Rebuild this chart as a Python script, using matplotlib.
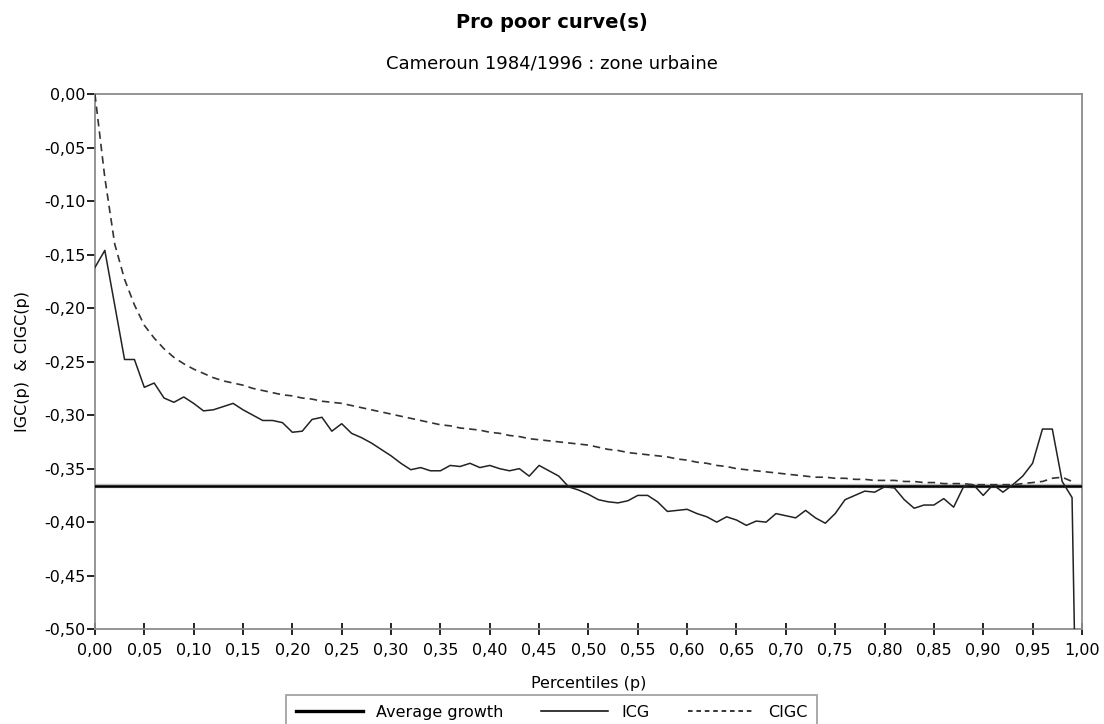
import numpy as np
import matplotlib
matplotlib.use("Agg")
import matplotlib.pyplot as plt
from matplotlib.ticker import FuncFormatter
from matplotlib.lines import Line2D

# percentiles 0.00 .. 1.00 (step 0.01)
p_icg = np.round(np.arange(0, 101) / 100, 2)
icg = [
    -0.162, -0.146, -0.197, -0.248, -0.248, -0.274, -0.270, -0.284, -0.288, -0.283,
    -0.289, -0.296, -0.295, -0.292, -0.289, -0.295, -0.300, -0.305, -0.305, -0.307,
    -0.316, -0.315, -0.304, -0.302, -0.315, -0.308, -0.317, -0.321, -0.326, -0.332,
    -0.338, -0.345, -0.351, -0.349, -0.352, -0.352, -0.347, -0.348, -0.345, -0.349,
    -0.347, -0.350, -0.352, -0.350, -0.357, -0.347, -0.352, -0.357, -0.367, -0.370,
    -0.374, -0.379, -0.381, -0.382, -0.380, -0.375, -0.375, -0.381, -0.390, -0.389,
    -0.388, -0.392, -0.395, -0.400, -0.395, -0.398, -0.403, -0.399, -0.400, -0.392,
    -0.394, -0.396, -0.389, -0.396, -0.401, -0.392, -0.379, -0.375, -0.371, -0.372,
    -0.367, -0.368, -0.379, -0.387, -0.384, -0.384, -0.378, -0.386, -0.367, -0.365,
    -0.375, -0.365, -0.372, -0.365, -0.357, -0.345, -0.313, -0.313, -0.362, -0.377,
    -0.900,
]

# CIGC stops at 0.99
p_cigc = np.round(np.arange(0, 100) / 100, 2)
cigc = [
    0.000, -0.078, -0.140, -0.173, -0.197, -0.216, -0.228, -0.238, -0.246, -0.252,
    -0.257, -0.261, -0.265, -0.268, -0.270, -0.272, -0.275, -0.277, -0.279, -0.281,
    -0.282, -0.284, -0.285, -0.287, -0.288, -0.289, -0.291, -0.293, -0.295, -0.297,
    -0.299, -0.301, -0.303, -0.305, -0.307, -0.309, -0.310, -0.312, -0.313, -0.314,
    -0.316, -0.317, -0.319, -0.320, -0.322, -0.323, -0.324, -0.325, -0.326, -0.327,
    -0.328, -0.330, -0.332, -0.333, -0.335, -0.336, -0.337, -0.338, -0.339, -0.341,
    -0.342, -0.344, -0.345, -0.347, -0.348, -0.350, -0.351, -0.352, -0.353, -0.354,
    -0.355, -0.356, -0.357, -0.358, -0.358, -0.359, -0.359, -0.360, -0.360, -0.361,
    -0.361, -0.361, -0.362, -0.362, -0.363, -0.363, -0.364, -0.364, -0.364, -0.365,
    -0.365, -0.365, -0.365, -0.365, -0.364, -0.363, -0.362, -0.359, -0.358, -0.362,
]

avg_growth = -0.366

x_ticks = np.round(np.arange(0, 21) * 0.05, 2)
y_ticks = np.round(np.arange(0, 11) * -0.05, 2)

plt.rcParams['font.family'] = ['DejaVu Sans']

fig = plt.figure(figsize=(11.04, 7.24), dpi=100)
ax = fig.add_axes([0.086, 0.131, 0.894, 0.739])

ax.axhline(avg_growth, color='#bdbdbd', linewidth=3.2, zorder=2)
ax.axhline(avg_growth, color='black', linewidth=1.8, zorder=3)
ax.plot(p_icg, icg, color='#222222', linewidth=1.1, zorder=4)
ax.plot(p_cigc, cigc, color='#333333', linewidth=1.2, dashes=(4.5, 3), zorder=4)

ax.set_xlim(0, 1)
ax.set_ylim(-0.5, 0)
ax.set_xticks(x_ticks)
ax.set_yticks(y_ticks)
fmt = FuncFormatter(lambda v, pos: f"{v:.2f}".replace('.', ',').replace('-0,00', '0,00'))
ax.xaxis.set_major_formatter(fmt)
ax.yaxis.set_major_formatter(fmt)
ax.tick_params(axis='x', direction='inout', length=8, width=1.2, labelsize=11.5, pad=6)
ax.tick_params(axis='y', direction='out', length=6, width=1.2, labelsize=11.5, pad=1)
for s in ax.spines.values():
    s.set_color('#8c8c8c')
    s.set_linewidth(1.3)

ax.set_xlabel("Percentiles (p)", fontsize=11.5, labelpad=13)
ax.set_ylabel("IGC(p)  & CIGC(p)", fontsize=11.5, labelpad=10)

fig.text(0.5, 1 - 23 / 724, "Pro poor curve(s)", ha='center', va='center',
         fontsize=14, fontweight='bold')
fig.text(0.5, 1 - 63 / 724, "Cameroun 1984/1996 : zone urbaine", ha='center',
         va='center', fontsize=13)

handles = [
    Line2D([], [], color='black', linewidth=2.4),
    Line2D([], [], color='black', linewidth=1.1),
    Line2D([], [], color='black', linewidth=1.1, dashes=(3, 2.5)),
]
leg = fig.legend(handles, ["Average growth", "ICG", "CIGC"], loc='upper center',
                 bbox_to_anchor=(0.4995, 1 - 695 / 724), ncol=3, fontsize=11.5,
                 frameon=True, fancybox=False, handlelength=4.2, columnspacing=2.4,
                 borderpad=0.6, handletextpad=0.8, borderaxespad=0)
leg.get_frame().set_edgecolor('#8c8c8c')
leg.get_frame().set_linewidth(1.3)

fig.savefig("out.png", dpi=100)
